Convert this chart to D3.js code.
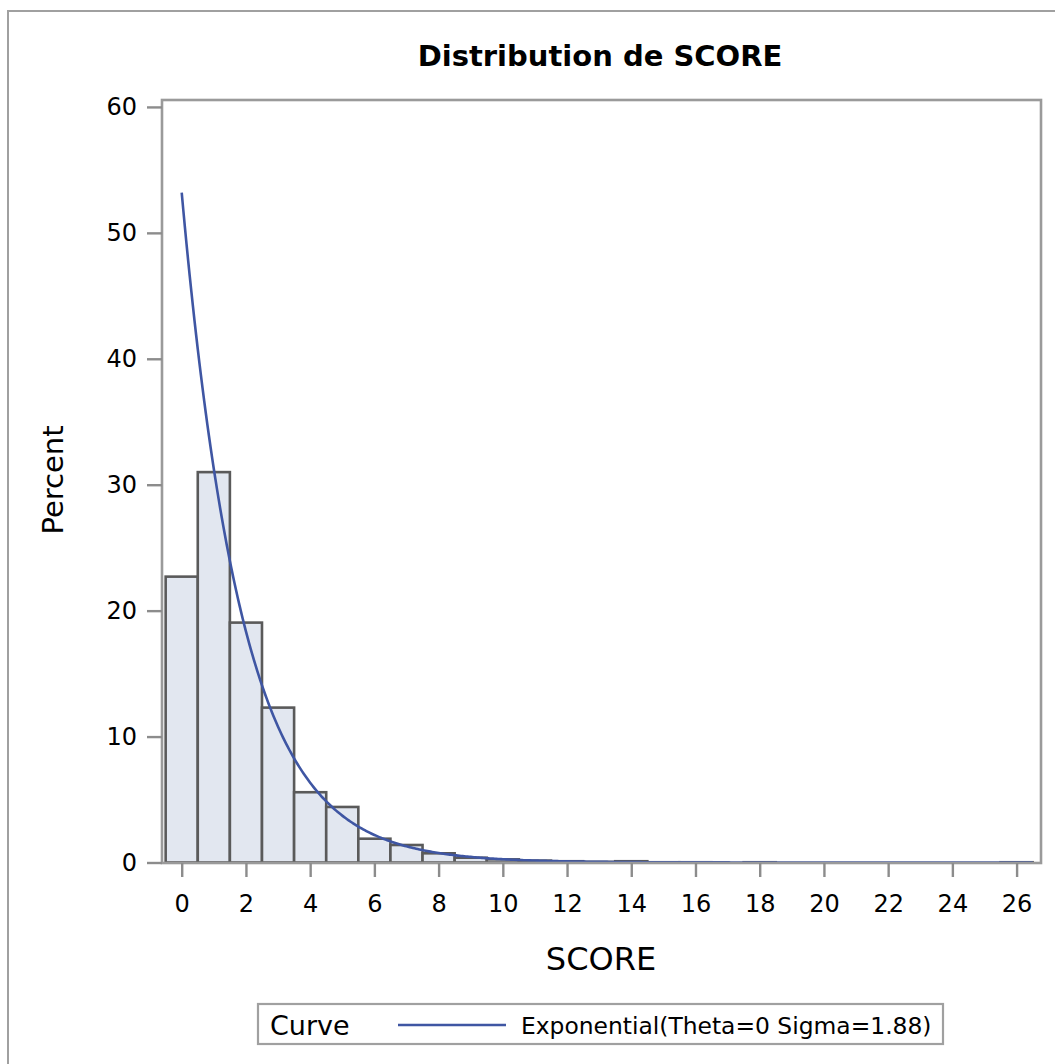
<!DOCTYPE html>
<html><head><meta charset="utf-8">
<script src="https://cdn.jsdelivr.net/npm/d3@7"></script>
<style>
html,body{margin:0;padding:0;background:#fff;}
svg{display:block;}
text{font-family:"DejaVu Sans",sans-serif;fill:#000;}
</style></head>
<body>
<script>
// ---- data ----
const title = "Distribution de SCORE";
const xLabel = "SCORE";
const yLabel = "Percent";
const binMids = [0,1,2,3,4,5,6,7,8,9,10,11,12,13,14,15,16,17,18,19,20,21,22,23,24,25,26];
const binPercents = [22.7,31.0,19.05,12.3,5.58,4.41,1.89,1.39,0.73,0.38,0.25,0.15,0.1,0.05,0.1,0.02,0.02,0,0.02,0,0,0,0,0,0,0,0.02];
const binWidth = 1;
const xTicks = [0,2,4,6,8,10,12,14,16,18,20,22,24,26];
const yTicks = [0,10,20,30,40,50,60];
const fitTheta = 0;
const fitSigma = 1.88;
const legendTitle = "Curve";
const legendLabel = "Exponential(Theta=0 Sigma=1.88)";

// ---- layout ----
const W = 1055, H = 1064;
const svg = d3.select("body").append("svg").attr("width", W).attr("height", H);

// outer border
svg.append("rect").attr("x", 8).attr("y", 11).attr("width", W + 20).attr("height", H + 20)
  .attr("fill", "none").attr("stroke", "#a0a0a0").attr("stroke-width", 2);

const plot = {left: 162, right: 1041, top: 100, bottom: 863};
const x = d3.scaleLinear().domain([-0.614, 26.76]).range([plot.left, plot.right]);
const y = d3.scaleLinear().domain([0, 60.55]).range([862.5, plot.top]);

// bars
svg.append("g").selectAll("rect").data(binMids.map((m, i) => ({m, p: binPercents[i]})))
  .join("rect")
  .attr("x", d => x(d.m - binWidth / 2))
  .attr("width", d => x(d.m + binWidth / 2) - x(d.m - binWidth / 2))
  .attr("y", d => y(d.p))
  .attr("height", d => y(0) - y(d.p))
  .attr("fill", "#e2e7f0")
  .attr("stroke", "#5a5a5a")
  .attr("stroke-width", 2.6);

// fitted exponential curve
const curvePts = d3.range(fitTheta, 26.5 + 1e-9, 0.05).map(v => [v, 100 * binWidth / fitSigma * Math.exp(-(v - fitTheta) / fitSigma)]);
svg.append("path").datum(curvePts)
  .attr("d", d3.line().x(d => x(d[0])).y(d => y(d[1])))
  .attr("fill", "none").attr("stroke", "#3f56a3").attr("stroke-width", 2.6);

// frame
svg.append("rect").attr("x", plot.left).attr("y", plot.top)
  .attr("width", plot.right - plot.left).attr("height", plot.bottom - plot.top)
  .attr("fill", "none").attr("stroke", "#9a9a9a").attr("stroke-width", 2.6);

// axes
const xAxis = svg.append("g").attr("transform", `translate(0,${plot.bottom})`)
  .call(d3.axisBottom(x).tickValues(xTicks).tickSize(14).tickPadding(18).tickFormat(d3.format("d")));
const yAxis = svg.append("g").attr("transform", `translate(${plot.left},0)`)
  .call(d3.axisLeft(y).tickValues(yTicks).tickSize(15).tickPadding(10).tickFormat(d3.format("d")));
[xAxis, yAxis].forEach(g => {
  g.select(".domain").remove();
  g.selectAll(".tick line").attr("stroke", "#8c8c8c").attr("stroke-width", 2.4);
  g.selectAll(".tick text").attr("font-family", "DejaVu Sans").attr("font-size", 24).attr("fill", "#000");
});

// title & labels
svg.append("text").attr("x", 600).attr("y", 66).attr("text-anchor", "middle")
  .attr("font-size", 29).attr("font-weight", "bold").text(title);
svg.append("text").attr("x", 601).attr("y", 970).attr("text-anchor", "middle")
  .attr("font-size", 32).text(xLabel);
svg.append("text").attr("transform", "translate(63,480) rotate(-90)").attr("text-anchor", "middle")
  .attr("font-size", 29).text(yLabel);

// legend
const lg = svg.append("g");
lg.append("rect").attr("x", 258).attr("y", 1004).attr("width", 685).attr("height", 40)
  .attr("fill", "#fff").attr("stroke", "#a0a0a0").attr("stroke-width", 2.2);
lg.append("text").attr("x", 270).attr("y", 1035).attr("font-size", 27).text(legendTitle);
lg.append("line").attr("x1", 398).attr("x2", 506).attr("y1", 1025).attr("y2", 1025)
  .attr("stroke", "#3f56a3").attr("stroke-width", 2.6);
lg.append("text").attr("x", 521).attr("y", 1034).attr("font-size", 23.4).text(legendLabel);
</script>
</body></html>
